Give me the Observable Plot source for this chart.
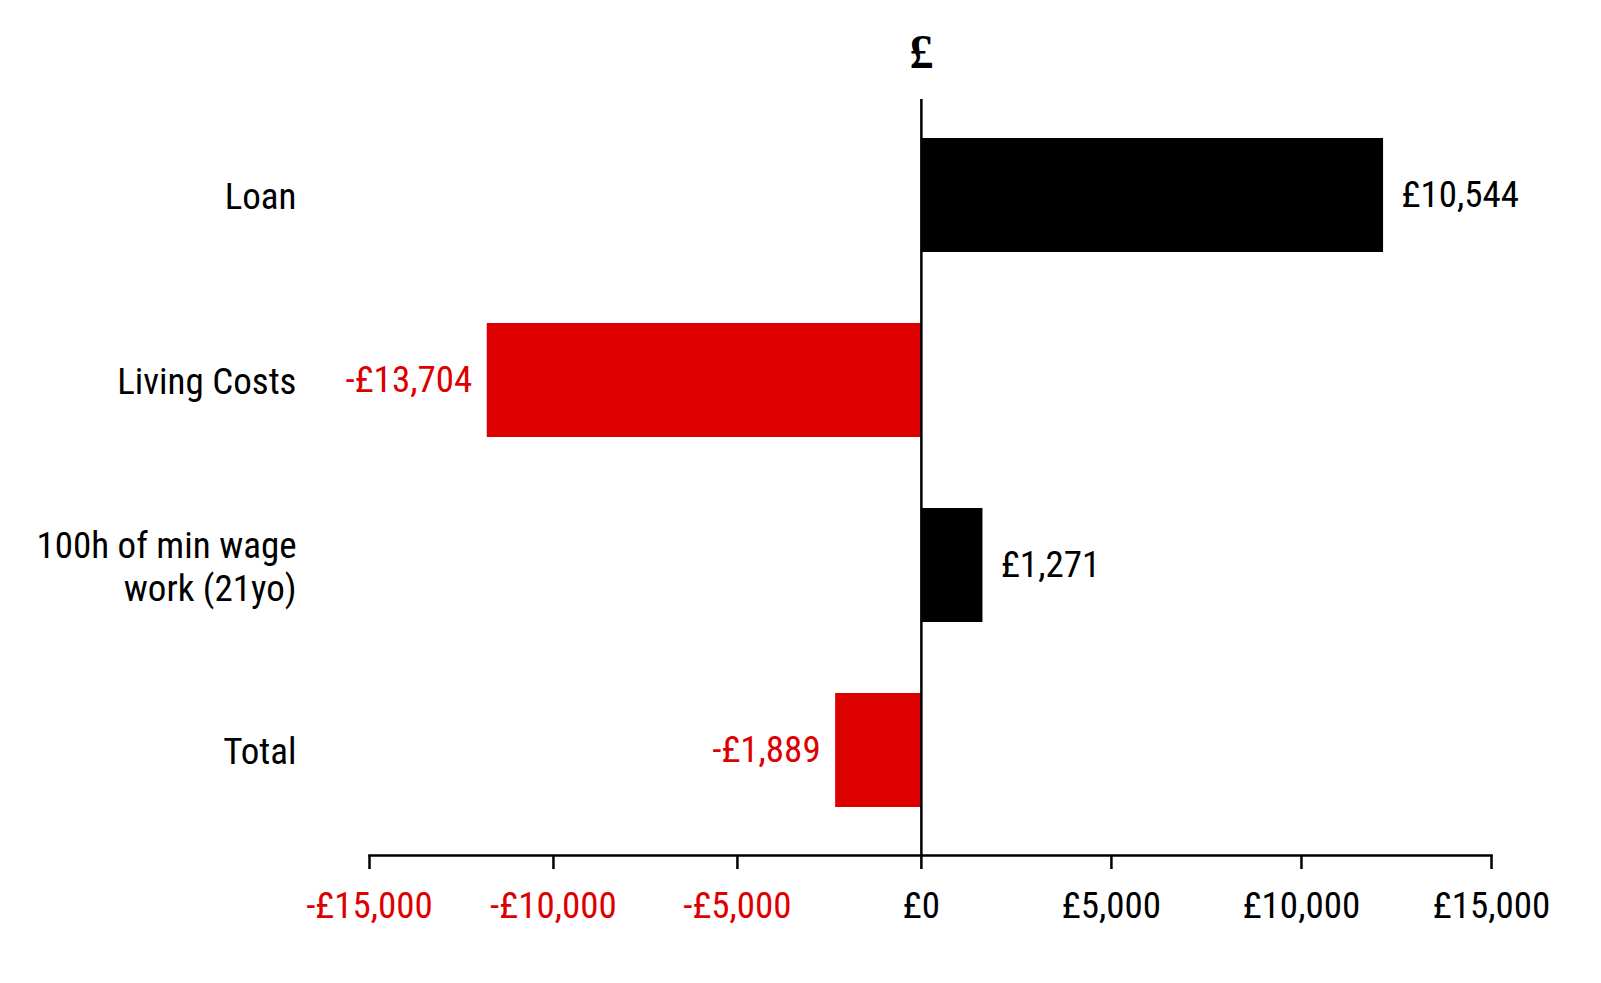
<!DOCTYPE html>
<html>
<head>
<meta charset="utf-8">
<script src="https://cdn.jsdelivr.net/npm/d3@7"></script>
<script src="https://cdn.jsdelivr.net/npm/@observablehq/plot@0.6"></script>
<style>
  html, body { margin: 0; padding: 0; background: #fff; }
  #chart svg { display: block; }
</style>
</head>
<body>
<div id="chart"></div>
<script>
// Categories (top to bottom)
const categories = ["Loan", "Living Costs", "100h of min wage work (21yo)", "Total"];
const categoryLabels = ["Loan", "Living Costs", "100h of min wage\nwork (21yo)", "Total"];
// Bar lengths as drawn in the picture (£)
const barValues = [12160, -11800, 1620, -2330];
// Value labels printed beside the bars
const valueLabels = ["£10,544", "-£13,704", "£1,271", "-£1,889"];
// X axis ticks
const xTicks = [-15000, -10000, -5000, 0, 5000, 10000, 15000];
const xTickLabels = ["-£15,000", "-£10,000", "-£5,000", "£0", "£5,000", "£10,000", "£15,000"];

const RED = "#dd0000";
const BLACK = "#000000";
const FONT = "'Liberation Sans Narrow', 'Arial Narrow', 'Roboto Condensed', 'Liberation Sans', sans-serif";
// the negative side of the reference axis is drawn slightly compressed
const NEG_SQUEEZE = 0.968;

const rows = categories.map((c, i) => ({
  category: c,
  value: barValues[i],
  label: valueLabels[i]
}));
const labelOf = new Map(categories.map((c, i) => [c, categoryLabels[i]]));
const tickLabelOf = new Map(xTicks.map((t, i) => [t, xTickLabels[i]]));

const chart = Plot.plot({
  width: 1601,
  height: 983,
  marginLeft: 369,
  marginRight: 110,
  marginTop: 99,
  marginBottom: 128,
  style: { fontFamily: FONT, background: "#fff", color: "#000" },
  x: {
    transform: v => (v < 0 ? v * NEG_SQUEEZE : v),
    domain: [-15000 * NEG_SQUEEZE, 15000]
  },
  y: { domain: categories, paddingInner: 0.386, paddingOuter: 0.229, align: 0.444 },
  marks: [
    Plot.barX(rows.filter(d => d.value >= 0), { x: "value", y: "category", fill: BLACK }),
    Plot.barX(rows.filter(d => d.value < 0), { x: "value", y: "category", fill: RED }),
    Plot.ruleX([0], { stroke: BLACK, strokeWidth: 2.5 }),
    Plot.frame({ anchor: "bottom", stroke: BLACK, strokeWidth: 2.5 }),
    Plot.axisX(xTicks.filter(t => t < 0), {
      tickSize: 14, tickPadding: 22, strokeWidth: 2.5, stroke: BLACK,
      fill: RED, fontSize: 37, tickFormat: t => tickLabelOf.get(t), label: null
    }),
    Plot.axisX(xTicks.filter(t => t >= 0), {
      tickSize: 14, tickPadding: 22, strokeWidth: 2.5, stroke: BLACK,
      fill: BLACK, fontSize: 37, tickFormat: t => tickLabelOf.get(t), label: null
    }),
    Plot.axisY({
      tickSize: 0, tickPadding: 73, fontSize: 37, lineHeight: 1.16,
      fill: BLACK, tickFormat: c => labelOf.get(c), label: null
    }),
    Plot.text(rows.filter(d => d.value >= 0), {
      x: "value", y: "category", text: "label", textAnchor: "start",
      dx: 18, fill: BLACK, fontSize: 37
    }),
    Plot.text(rows.filter(d => d.value < 0), {
      x: "value", y: "category", text: "label", textAnchor: "end",
      dx: -15, fill: RED, fontSize: 37
    }),
    Plot.text(["£"], {
      x: 0, frameAnchor: "top", dy: -66, text: d => d,
      fontFamily: "'Liberation Serif', 'DejaVu Serif', serif", fontWeight: "bold", fontSize: 48, fill: BLACK
    })
  ]
});
document.getElementById("chart").appendChild(chart);
</script>
</body>
</html>
